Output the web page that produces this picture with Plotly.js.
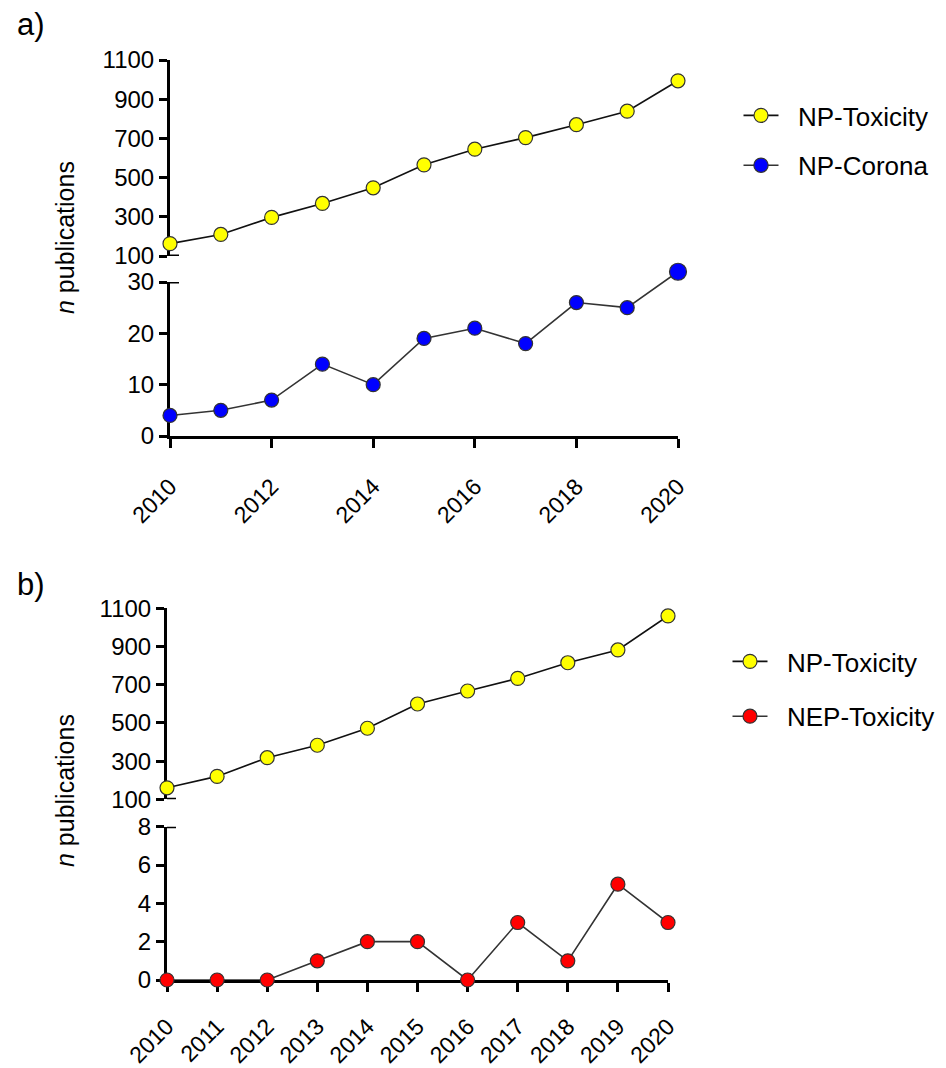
<!DOCTYPE html>
<html>
<head>
<meta charset="utf-8">
<script src="https://cdn.plot.ly/plotly-3.0.1.min.js"></script>
<style>html,body{margin:0;padding:0;background:#fff;}#chart{width:946px;height:1068px;}</style>
</head>
<body>
<div id="chart"></div>
<script>
// ---- data ----
const years = [2010, 2011, 2012, 2013, 2014, 2015, 2016, 2017, 2018, 2019, 2020];
const npToxicityA = [163, 210, 297, 368, 448, 565, 645, 704, 770, 839, 994];
const npCorona = [4, 5, 7, 14, 10, 19, 21, 18, 26, 25, 32];
const npToxicityB = [160, 220, 318, 383, 472, 599, 667, 733, 815, 882, 1060];
const nepToxicity = [0, 0, 0, 1, 2, 2, 0, 3, 1, 5, 3];
const topTicks = [100, 300, 500, 700, 900, 1100];
const coronaTicks = [0, 10, 20, 30];
const nepTicks = [0, 2, 4, 6, 8];
const seriesNames = ['NP-Toxicity', 'NP-Corona', 'NP-Toxicity', 'NEP-Toxicity'];
const panelLabels = ['a)', 'b)'];
const yTitle = '<i>n</i> publications';

const FONT = 'Arial, "Liberation Sans", Helvetica, sans-serif';
const W = 946, H = 1068;
const px = v => v / W;
const py = v => 1 - v / H;
const PAD = '&nbsp;&nbsp;'; // gap between legend symbol and label, as in the reference

const mk = (color, size) => ({color: color, size: size, opacity: 1, line: {color: '#333', width: 1.2}});

// NP-Corona lower axis: visible axis spans 0..30 between pixel rows 436 and 282;
// an invisible overlay axis with the same scale extends a little higher so the 2020 point (>30) is shown.
const cTop = 282, cBot = 436, cExtTop = 258;
const coronaExtMax = 30 * (cBot - cExtTop) / (cBot - cTop);

const traces = [
  {x: years, y: npToxicityA, xaxis: 'x2', yaxis: 'y', name: PAD + seriesNames[0], mode: 'lines+markers',
   line: {color: '#111', width: 1.6}, marker: mk('#FFFF00', 14), cliponaxis: false,
   legend: 'legend', legendgroup: 'a1'},
  {x: years, y: npCorona, xaxis: 'x5', yaxis: 'y5', name: PAD + seriesNames[1], mode: 'lines+markers',
   line: {color: '#333', width: 1.6}, marker: mk('#0000FF', [14,14,14,14,14,14,14,14,14,14,17]), cliponaxis: false,
   legend: 'legend', legendgroup: 'a2'},
  {x: years, y: npToxicityB, xaxis: 'x4', yaxis: 'y3', name: PAD + seriesNames[2], mode: 'lines+markers',
   line: {color: '#111', width: 1.6}, marker: mk('#FFFF00', 14), cliponaxis: false,
   legend: 'legend2', legendgroup: 'b1'},
  {x: years, y: nepToxicity, xaxis: 'x3', yaxis: 'y4', name: PAD + seriesNames[3], mode: 'lines+markers',
   line: {color: '#333', width: 1.6}, marker: mk('#FF0000', 14), cliponaxis: false,
   legend: 'legend2', legendgroup: 'b2'}
];

const yBase = {
  showline: true, linewidth: 3, linecolor: '#000', ticks: 'outside', ticklen: 8, tickwidth: 3,
  tickcolor: '#000', showgrid: false, zeroline: false, layer: 'below traces',
  tickfont: {family: FONT, size: 24, color: '#000'}, fixedrange: true
};
const xBase = {
  showline: true, linewidth: 3, linecolor: '#000', ticks: 'outside', ticklen: 9, tickwidth: 3,
  tickcolor: '#000', showgrid: false, zeroline: false, layer: 'below traces',
  tickangle: -45, range: [2010, 2020],
  tickfont: {family: FONT, size: 23, color: '#000'}, fixedrange: true
};

const xDomA = [px(170), px(678)];
const xDomB = [px(167), px(668)];

const breakMark = (xref, yref, yv) => ({
  type: 'line', xref: xref, xsizemode: 'pixel', xanchor: 2010,
  x0: -9, x1: 9, yref: yref, y0: yv, y1: yv, line: {color: '#000', width: 3}, layer: 'below'
});

const legendBase = {xanchor: 'left', yanchor: 'top', font: {family: FONT, size: 26, color: '#000'},
  bgcolor: 'rgba(0,0,0,0)', traceorder: 'grouped', itemwidth: 35, itemclick: false};

const layout = {
  width: W, height: H, margin: {l: 0, r: 0, t: 0, b: 0},
  paper_bgcolor: '#fff', plot_bgcolor: 'rgba(0,0,0,0)', showlegend: true,
  font: {family: FONT, color: '#000'},
  xaxis: Object.assign({}, xBase, {domain: xDomA, anchor: 'y2', ticklabelstandoff: 16, tickvals: [2010, 2012, 2014, 2016, 2018, 2020]}),
  xaxis2: {domain: xDomA, anchor: 'y', matches: 'x', visible: false, range: [2010, 2020], fixedrange: true},
  xaxis5: {domain: xDomA, anchor: 'y5', matches: 'x', visible: false, range: [2010, 2020], fixedrange: true},
  yaxis: Object.assign({}, yBase, {domain: [py(256), py(60)], anchor: 'x2', range: [100, 1100], tickvals: topTicks}),
  yaxis2: Object.assign({}, yBase, {domain: [py(cBot), py(cTop)], anchor: 'x', range: [0, 30], tickvals: coronaTicks}),
  yaxis5: {domain: [py(cBot), py(cExtTop)], anchor: 'x5', range: [0, coronaExtMax], visible: false, fixedrange: true},
  xaxis3: Object.assign({}, xBase, {domain: xDomB, anchor: 'y4', ticklabelstandoff: 12, tickvals: years}),
  xaxis4: {domain: xDomB, anchor: 'y3', matches: 'x3', visible: false, range: [2010, 2020], fixedrange: true},
  yaxis3: Object.assign({}, yBase, {domain: [py(799.3), py(608.3)], anchor: 'x4', range: [100, 1100], tickvals: topTicks}),
  yaxis4: Object.assign({}, yBase, {domain: [py(980), py(826.7)], anchor: 'x3', range: [0, 8], tickvals: nepTicks}),
  legend: Object.assign({}, legendBase, {x: px(738.5), y: py(92), tracegroupgap: 13}),
  legend2: Object.assign({}, legendBase, {x: px(727.5), y: py(638), tracegroupgap: 18}),
  shapes: [breakMark('x', 'y', 100), breakMark('x', 'y2', 30), breakMark('x3', 'y3', 100), breakMark('x3', 'y4', 8)],
  annotations: [
    {text: panelLabels[0], xref: 'paper', yref: 'paper', x: px(15), y: py(24), xanchor: 'left', yanchor: 'middle',
     showarrow: false, font: {family: FONT, size: 31, color: '#000'}},
    {text: panelLabels[1], xref: 'paper', yref: 'paper', x: px(15), y: py(584), xanchor: 'left', yanchor: 'middle',
     showarrow: false, font: {family: FONT, size: 31, color: '#000'}},
    {text: yTitle, xref: 'paper', yref: 'paper', x: px(65), y: py(238), xanchor: 'center', yanchor: 'middle',
     textangle: -90, showarrow: false, font: {family: FONT, size: 25, color: '#000'}},
    {text: yTitle, xref: 'paper', yref: 'paper', x: px(65), y: py(791), xanchor: 'center', yanchor: 'middle',
     textangle: -90, showarrow: false, font: {family: FONT, size: 25, color: '#000'}}
  ]
};

Plotly.newPlot('chart', traces, layout, {staticPlot: true, displayModeBar: false});
</script>
</body>
</html>
